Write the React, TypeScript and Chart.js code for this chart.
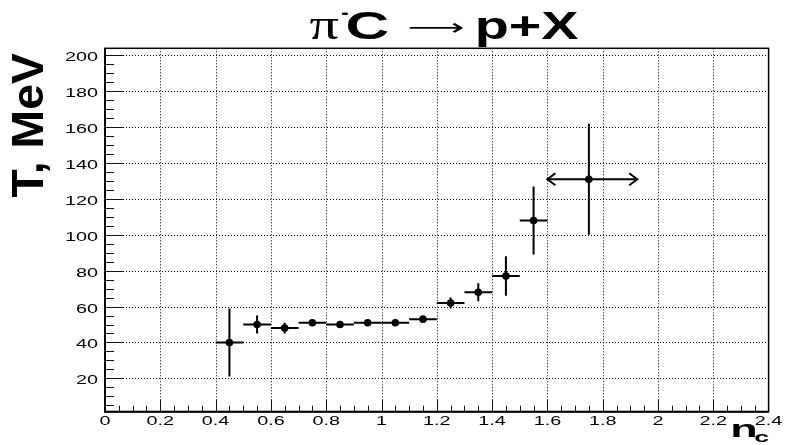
import React, { useEffect, useRef } from "react";
import { Chart, registerables } from "chart.js";

Chart.register(...registerables);

// ---- data ----
const nc = [0.45, 0.55, 0.65, 0.75, 0.85, 0.95, 1.05, 1.15, 1.25, 1.35, 1.45, 1.55, 1.75];
const temperature = [40, 50, 48, 51, 50, 51, 51, 53, 62, 68, 77, 108, 131];
const temperatureErr = [19, 5, 3, 1, 1, 1, 1, 1, 3, 5, 11, 19, 31];
const ncErrLow = [0.05, 0.05, 0.05, 0.05, 0.05, 0.05, 0.05, 0.05, 0.05, 0.05, 0.05, 0.05, 0.15];
const ncErrHigh = [0.05, 0.05, 0.05, 0.05, 0.05, 0.05, 0.05, 0.05, 0.05, 0.05, 0.05, 0.05, 0.175];
const ncArrow = [false, false, false, false, false, false, false, false, false, false, false, false, true];

const xTicks = [0, 0.2, 0.4, 0.6, 0.8, 1, 1.2, 1.4, 1.6, 1.8, 2, 2.2, 2.4];
const xTickLabels = ["0", "0.2", "0.4", "0.6", "0.8", "1", "1.2", "1.4", "1.6", "1.8", "2", "2.2", "2.4"];
const yTicks = [20, 40, 60, 80, 100, 120, 140, 160, 180, 200];
const yTickLabels = ["20", "40", "60", "80", "100", "120", "140", "160", "180", "200"];

const X_MIN = 0;
const X_MAX = 2.4;
const Y_MIN = 1.4;
const Y_MAX = 204;
const X_MINOR_STEP = 0.05;
const Y_MINOR_STEP = 5;

function fitText(ctx: CanvasRenderingContext2D, text: string, font: string, x0: number, x1: number, top: number, bottom: number) {
  ctx.save();
  ctx.font = font;
  ctx.textAlign = "left";
  ctx.textBaseline = "alphabetic";
  const m = ctx.measureText(text);
  const w = m.actualBoundingBoxLeft + m.actualBoundingBoxRight;
  const h = m.actualBoundingBoxAscent + m.actualBoundingBoxDescent;
  ctx.translate(x0, top);
  ctx.scale((x1 - x0) / w, (bottom - top) / h);
  ctx.fillText(text, m.actualBoundingBoxLeft, m.actualBoundingBoxAscent);
  ctx.restore();
}

function fitTextUp(ctx: CanvasRenderingContext2D, text: string, font: string, left: number, right: number, top: number, bottom: number) {
  ctx.save();
  ctx.font = font;
  ctx.textAlign = "left";
  ctx.textBaseline = "alphabetic";
  const m = ctx.measureText(text);
  const w = m.actualBoundingBoxLeft + m.actualBoundingBoxRight;
  const h = m.actualBoundingBoxAscent + m.actualBoundingBoxDescent;
  ctx.translate(left, bottom);
  ctx.rotate(-Math.PI / 2);
  ctx.scale((bottom - top) / w, (right - left) / h);
  ctx.fillText(text, m.actualBoundingBoxLeft, m.actualBoundingBoxAscent);
  ctx.restore();
}

function stretchedLabel(ctx: CanvasRenderingContext2D, text: string, x: number, baseline: number, align: CanvasTextAlign) {
  ctx.save();
  ctx.font = "12px 'Liberation Sans', Arial, sans-serif";
  ctx.textAlign = align;
  ctx.textBaseline = "alphabetic";
  ctx.fillStyle = "#000";
  ctx.translate(x, baseline);
  ctx.scale(1.65, 1);
  ctx.fillText(text, 0, 0);
  ctx.restore();
}

const rootStylePlugin = {
  id: "rootStyle",
  beforeDraw(chart: any) {
    const ctx = chart.ctx as CanvasRenderingContext2D;
    ctx.save();
    ctx.fillStyle = "#fff";
    ctx.fillRect(0, 0, chart.width, chart.height);
    ctx.restore();
  },
  beforeDatasetsDraw(chart: any) {
    const ctx = chart.ctx as CanvasRenderingContext2D;
    const a = chart.chartArea;
    const xs = chart.scales.x;
    const ys = chart.scales.y;

    // dotted grid
    ctx.save();
    ctx.strokeStyle = "#000";
    ctx.lineWidth = 1;
    ctx.setLineDash([1, 2]);
    for (const v of xTicks) {
      if (v <= X_MIN || v >= X_MAX) continue;
      const px = Math.round(xs.getPixelForValue(v)) + 0.5;
      ctx.beginPath();
      ctx.moveTo(px, a.top);
      ctx.lineTo(px, a.bottom);
      ctx.stroke();
    }
    for (const v of yTicks) {
      const py = Math.round(ys.getPixelForValue(v)) + 0.5;
      ctx.beginPath();
      ctx.moveTo(a.left, py);
      ctx.lineTo(a.right, py);
      ctx.stroke();
    }
    ctx.restore();

    // tick marks (inside the frame)
    ctx.save();
    ctx.strokeStyle = "#111";
    ctx.lineWidth = 1;
    for (let v = Y_MINOR_STEP; v < Y_MAX; v += Y_MINOR_STEP) {
      const major = Math.abs(v % 20) < 1e-6;
      const py = Math.round(ys.getPixelForValue(v)) + 0.5;
      ctx.beginPath();
      ctx.moveTo(a.left, py);
      ctx.lineTo(a.left + (major ? 18 : 9), py);
      ctx.stroke();
    }
    for (let k = 1; k * X_MINOR_STEP < X_MAX - 1e-6; k++) {
      const v = k * X_MINOR_STEP;
      const major = k % 4 === 0;
      const px = Math.round(xs.getPixelForValue(v)) + 0.5;
      ctx.beginPath();
      ctx.moveTo(px, a.bottom);
      ctx.lineTo(px, a.bottom - (major ? 12 : 6));
      ctx.stroke();
    }
    ctx.restore();

    // frame
    ctx.save();
    ctx.strokeStyle = "#000";
    ctx.lineWidth = 1.5;
    ctx.strokeRect(a.left, a.top, a.right - a.left, a.bottom - a.top);
    ctx.lineWidth = 2;
    ctx.beginPath();
    ctx.moveTo(a.left, a.top);
    ctx.lineTo(a.left, a.bottom);
    ctx.lineTo(a.right, a.bottom);
    ctx.stroke();
    ctx.restore();

    // error bars
    ctx.save();
    ctx.strokeStyle = "#000";
    ctx.lineWidth = 2;
    for (let i = 0; i < nc.length; i++) {
      const cx = xs.getPixelForValue(nc[i]);
      const cy = ys.getPixelForValue(temperature[i]);
      const xl = xs.getPixelForValue(nc[i] - ncErrLow[i]);
      const xh = xs.getPixelForValue(nc[i] + ncErrHigh[i]);
      const yt = ys.getPixelForValue(temperature[i] + temperatureErr[i]);
      const yb = ys.getPixelForValue(temperature[i] - temperatureErr[i]);
      ctx.beginPath();
      ctx.moveTo(xl, cy);
      ctx.lineTo(xh, cy);
      ctx.moveTo(cx, yt);
      ctx.lineTo(cx, yb);
      ctx.stroke();
      if (ncArrow[i]) {
        ctx.beginPath();
        ctx.moveTo(xl + 8, cy - 6);
        ctx.lineTo(xl, cy);
        ctx.lineTo(xl + 8, cy + 6);
        ctx.moveTo(xh - 8, cy - 6);
        ctx.lineTo(xh, cy);
        ctx.lineTo(xh - 8, cy + 6);
        ctx.stroke();
      }
    }
    ctx.restore();
  },
  afterDraw(chart: any) {
    const ctx = chart.ctx as CanvasRenderingContext2D;
    const a = chart.chartArea;
    const xs = chart.scales.x;
    const ys = chart.scales.y;
    ctx.save();
    ctx.fillStyle = "#000";

    // tick labels
    xTicks.forEach((v, i) => {
      stretchedLabel(ctx, xTickLabels[i], xs.getPixelForValue(v), a.bottom + 13.3, "center");
    });
    yTicks.forEach((v, i) => {
      stretchedLabel(ctx, yTickLabels[i], a.left - 7, ys.getPixelForValue(v) + 6, "right");
    });

    // title: π⁻C → p+X
    fitText(ctx, "π", "100px 'Liberation Serif', 'DejaVu Serif', serif", 310, 338, 18, 39);
    fitText(ctx, "-", "bold 100px 'Liberation Sans', Arial, sans-serif", 342, 348, 12.5, 15);
    fitText(ctx, "C", "bold 100px 'Liberation Sans', Arial, sans-serif", 348, 388, 12, 39);
    fitText(ctx, "⟶", "100px 'DejaVu Sans', sans-serif", 410, 463, 23, 33);
    fitText(ctx, "p+X", "bold 100px 'Liberation Sans', Arial, sans-serif", 478, 578, 12, 46.5);

    // y axis title
    fitTextUp(ctx, "T, MeV", "bold 100px 'Liberation Sans', Arial, sans-serif", 11.7, 50, 53, 197);

    // x axis title n_c
    fitText(ctx, "n", "bold 100px 'Liberation Sans', Arial, sans-serif", 733, 755, 423.3, 436.7);
    fitText(ctx, "c", "bold 100px 'Liberation Sans', Arial, sans-serif", 755, 768.3, 433.3, 441.7);

    ctx.restore();
  },
};

export default function App() {
  const canvasRef = useRef<HTMLCanvasElement | null>(null);

  useEffect(() => {
    if (!canvasRef.current) return;
    const chart = new Chart(canvasRef.current, {
      type: "scatter",
      data: {
        datasets: [
          {
            data: nc.map((x, i) => ({ x, y: temperature[i] })),
            pointRadius: 3.8,
            pointBackgroundColor: "#000",
            pointBorderColor: "#000",
            pointBorderWidth: 0,
            showLine: false,
          },
        ],
      },
      options: {
        animation: false,
        responsive: false,
        events: [],
        layout: { padding: { left: 105, top: 48.3, right: 16.4, bottom: 33.3 } },
        plugins: { legend: { display: false }, tooltip: { enabled: false }, title: { display: false } },
        scales: {
          x: { type: "linear", min: X_MIN, max: X_MAX, display: false },
          y: { type: "linear", min: Y_MIN, max: Y_MAX, display: false },
        },
      },
      plugins: [rootStylePlugin],
    } as any);
    return () => chart.destroy();
  }, []);

  return (
    <div style={{ position: "absolute", left: 0, top: 0, width: 785, height: 445, background: "#fff" }}>
      <canvas ref={canvasRef} width={785} height={445} style={{ display: "block" }} />
    </div>
  );
}
